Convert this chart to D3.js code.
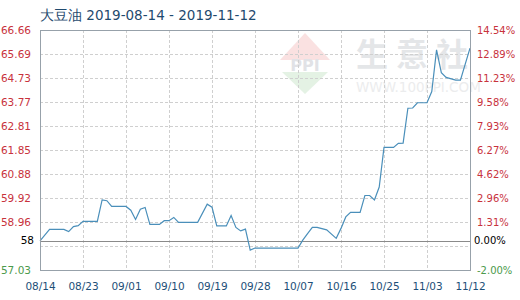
<!DOCTYPE html>
<html>
<head>
<meta charset="utf-8">
<script src="https://cdn.jsdelivr.net/npm/d3@7"></script>
<style>
  body { margin: 0; background: #fff; }
  text { font-family: "DejaVu Sans", Verdana, sans-serif; }
</style>
</head>
<body>
<div id="chart"></div>
<script>
// daily price points (only the days where the line turns)
var dates = ["2019-08-14","2019-08-16","2019-08-19","2019-08-20","2019-08-21","2019-08-22","2019-08-23",
  "2019-08-26","2019-08-27","2019-08-28","2019-08-29","2019-09-01","2019-09-02","2019-09-03","2019-09-04",
  "2019-09-05","2019-09-06","2019-09-08","2019-09-09","2019-09-10","2019-09-11","2019-09-12","2019-09-16",
  "2019-09-18","2019-09-19","2019-09-20","2019-09-22","2019-09-23","2019-09-24","2019-09-25","2019-09-26",
  "2019-09-27","2019-09-28","2019-10-07","2019-10-08","2019-10-09","2019-10-10","2019-10-11","2019-10-13",
  "2019-10-15","2019-10-16","2019-10-17","2019-10-18","2019-10-20","2019-10-21","2019-10-22","2019-10-23",
  "2019-10-24","2019-10-25","2019-10-27","2019-10-28","2019-10-29","2019-10-30","2019-10-31","2019-11-01",
  "2019-11-03","2019-11-04","2019-11-05","2019-11-06","2019-11-07","2019-11-09","2019-11-10","2019-11-12"];
var prices = [58.2, 58.66, 58.66, 58.57, 58.77, 58.81, 58.98,
  58.98, 59.84, 59.81, 59.58, 59.58, 59.43, 59.06, 59.47,
  59.54, 58.86, 58.86, 59.01, 59.01, 59.14, 58.94, 58.94,
  59.67, 59.55, 58.80, 58.80, 59.22, 58.74, 58.60, 58.67,
  57.83, 57.91, 57.91, 58.23, 58.49, 58.74, 58.74, 58.64,
  58.30, 58.70, 59.16, 59.34, 59.34, 60.02, 60.02, 59.84,
  60.36, 61.95, 61.95, 62.11, 62.12, 63.52, 63.53, 63.74,
  63.74, 64.19, 65.86, 64.95, 64.76, 64.65, 64.65, 65.93];

var basePrice = 58.196;
var gridValues = [57.03, 57.99, 58.96, 59.92, 60.88, 61.85, 62.81, 63.77, 64.73, 65.69, 66.66];
var leftTicks = [57.03, 58.96, 59.92, 60.88, 61.85, 62.81, 63.77, 64.73, 65.69, 66.66];
var leftLabels = ["57.03", "58.96", "59.92", "60.88", "61.85", "62.81", "63.77", "64.73", "65.69", "66.66"];
var rightLabels = ["-2.00%", "1.31%", "2.96%", "4.62%", "6.27%", "7.93%", "9.58%", "11.23%", "12.89%", "14.54%"];
var xLabels = ["2019-08-14","2019-08-23","2019-09-01","2019-09-10","2019-09-19","2019-09-28",
  "2019-10-07","2019-10-16","2019-10-25","2019-11-03","2019-11-12"];
var markChars = ["生", "意", "社"];

var width = 520, height = 300;
var plotLeft = 40, plotRight = 470, plotTop = 30, plotBottom = 270;
var parse = d3.timeParse("%Y-%m-%d");

var svg = d3.select("#chart").append("svg")
    .attr("width", width)
    .attr("height", height);

var x = d3.scaleTime()
    .domain([parse("2019-08-14"), parse("2019-11-12")])
    .range([plotLeft, plotRight]);
var y = d3.scaleLinear()
    .domain([57.03, 66.66])
    .range([plotBottom, plotTop]);

// watermark
var wm = svg.append("g").attr("opacity", 0.55);
wm.append("path")
    .attr("d", "M305,33 L330,60 L280,60 Z")
    .attr("fill", "#f6c9c9");
wm.append("path")
    .attr("d", "M282,72 L328,72 L305,94 Z")
    .attr("fill", "#cfe8cf");
wm.append("text").attr("x", 305).attr("y", 71).attr("text-anchor", "middle")
    .style("font-size", "16px").style("font-weight", "bold").attr("fill", "#c9ccd3")
    .text("PPI");
wm.selectAll("text.mark")
    .data(markChars).enter().append("text")
    .attr("class", "mark")
    .attr("x", function(d, i) { return 356 + i * 40; }).attr("y", 66)
    .style("font-size", "32px").style("font-weight", "bold")
    .style("font-family", "Noto Sans CJK SC")
    .attr("fill", "#cfd2d7").text(function(d) { return d; });
wm.append("text").attr("x", 356).attr("y", 92)
    .style("font-size", "13.5px").attr("fill", "#dcdde0").text("WWW.100PPI.COM");

// grid
svg.append("g").selectAll("line")
    .data(gridValues).enter().append("line")
    .attr("x1", plotLeft).attr("x2", plotRight)
    .attr("y1", function(d) { return Math.round(y(d)) + 0.5; })
    .attr("y2", function(d) { return Math.round(y(d)) + 0.5; })
    .style("stroke", "#cfcfcf").style("stroke-dasharray", "3,2");
svg.append("g").selectAll("line")
    .data(xLabels).enter().append("line")
    .attr("x1", function(d) { return Math.round(x(parse(d))) + 0.5; })
    .attr("x2", function(d) { return Math.round(x(parse(d))) + 0.5; })
    .attr("y1", plotTop).attr("y2", plotBottom)
    .style("stroke", "#cfcfcf").style("stroke-dasharray", "3,2");

// base line
svg.append("line")
    .attr("x1", plotLeft).attr("x2", plotRight)
    .attr("y1", Math.round(y(basePrice)) + 0.5).attr("y2", Math.round(y(basePrice)) + 0.5)
    .style("stroke", "#8a8a8a");

// price line
var line = d3.line()
    .x(function(d, i) { return x(parse(dates[i])); })
    .y(function(d) { return y(d); });
svg.append("path")
    .datum(prices)
    .attr("d", line)
    .style("fill", "none")
    .style("stroke", "#4a8fba")
    .style("stroke-width", 1.2);

// frame
svg.append("rect")
    .attr("x", plotLeft + 0.5).attr("y", plotTop + 0.5)
    .attr("width", plotRight - plotLeft).attr("height", plotBottom - plotTop)
    .style("fill", "none").style("stroke", "#97a1aa");

function labelColor(i) { return i === 0 ? "#4c9a4c" : "#c8323c"; }

// left axis
var yLeft = svg.append("g")
    .attr("transform", "translate(" + (plotLeft - 6) + ",0)")
    .call(d3.axisLeft(y).tickValues(leftTicks).tickSize(0)
      .tickFormat(function(d, i) { return leftLabels[i]; }));
yLeft.select(".domain").remove();
yLeft.selectAll("text").style("font-size", "10.5px").style("font-family", "DejaVu Sans")
    .attr("fill", function(d, i) { return labelColor(i); });
svg.append("text")
    .attr("x", plotLeft - 6).attr("y", y(basePrice)).attr("dy", "0.32em")
    .attr("text-anchor", "end").style("font-size", "10.5px").attr("fill", "#000")
    .text("58");

// right axis
var yRight = svg.append("g")
    .attr("transform", "translate(" + (plotRight + 4) + ",0)")
    .call(d3.axisRight(y).tickValues(leftTicks).tickSize(0)
      .tickFormat(function(d, i) { return rightLabels[i]; }));
yRight.select(".domain").remove();
yRight.selectAll("text").style("font-size", "10px").style("font-family", "DejaVu Sans")
    .attr("fill", function(d, i) { return labelColor(i); });
svg.append("text")
    .attr("x", plotRight + 4).attr("y", y(basePrice)).attr("dy", "0.32em")
    .style("font-size", "10px").attr("fill", "#000")
    .text("0.00%");

// x axis
var xAxis = svg.append("g")
    .attr("transform", "translate(0," + (plotBottom + 10) + ")")
    .call(d3.axisBottom(x).tickValues(xLabels.map(parse)).tickSize(0)
      .tickFormat(d3.timeFormat("%m/%d")));
xAxis.select(".domain").remove();
xAxis.selectAll("text").style("font-size", "10.5px").style("font-family", "DejaVu Sans")
    .attr("fill", "#1d4f78");

// title
svg.append("text")
    .attr("x", plotLeft).attr("y", 20)
    .style("font-size", "13.5px")
    .attr("fill", "#1f4a6e")
    .text("大豆油 2019-08-14 - 2019-11-12");
</script>
</body>
</html>
